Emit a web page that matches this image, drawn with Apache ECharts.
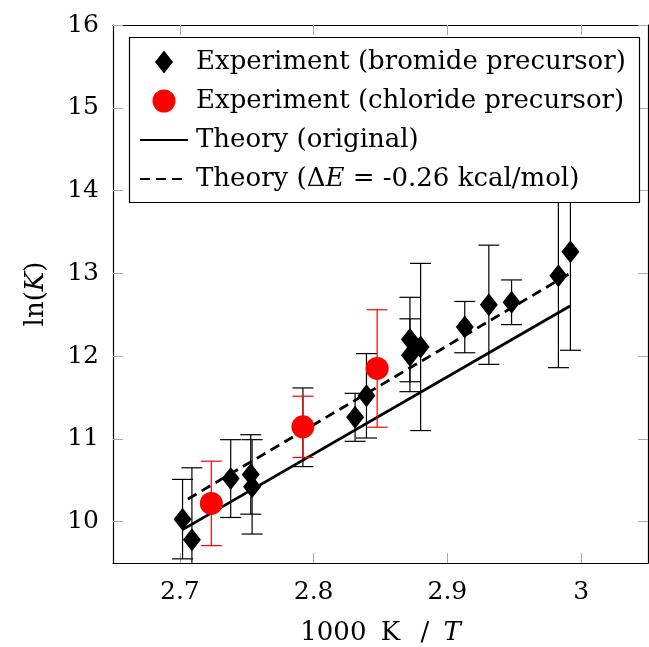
<!DOCTYPE html>
<html>
<head>
<meta charset="utf-8">
<script src="https://cdn.jsdelivr.net/npm/echarts@6/dist/echarts.min.js"></script>
<style>
  html, body { margin: 0; padding: 0; background: #fff; }
  #main { width: 649px; height: 647px; }
</style>
</head>
<body>
<div id="main"></div>
<script>
    'use strict';

    // bromide precursor measurements (1000 K / T, ln K, error)
    var bromideX = [2.702, 2.709, 2.738, 2.753, 2.754, 2.792, 2.831, 2.8395, 2.872, 2.872, 2.880, 2.913, 2.931, 2.948, 2.983, 2.992];
    var bromideY = [10.03, 9.78, 10.52, 10.57, 10.42, 11.14, 11.26, 11.52, 12.20, 12.01, 12.11, 12.35, 12.62, 12.65, 12.97, 13.26];
    var bromideErr = [0.48, 0.87, 0.47, 0.48, 0.57, 0.475, 0.29, 0.51, 0.51, 0.44, 1.01, 0.31, 0.72, 0.27, 1.11, 1.19];

    // chloride precursor measurements
    var chlorideX = [2.7235, 2.792, 2.8475];
    var chlorideY = [10.22, 11.145, 11.85];
    var chlorideErr = [0.51, 0.37, 0.71];

    // theory lines
    var theoryOrigX = [2.7017, 2.9917];
    var theoryOrigY = [9.90, 12.605];
    var theoryShiftX = [2.706, 2.9917];
    var theoryShiftY = [10.273, 13.0];

    var xTicks = [2.7, 2.8, 2.9, 3];
    var yTicks = [10, 11, 12, 13, 14, 15, 16];

    var names = ['Experiment (bromide precursor)', 'Experiment (chloride precursor)', 'Theory (original)', 'Theory (\u0394E = -0.26 kcal/mol)'];

    var FONT = 'DejaVu Serif';
    var FS = 25;      // tick labels
    var FS_BIG = 26;  // legend + axis names

    function pairs(xs, ys) {
        return xs.map(function (x, i) { return [x, ys[i]]; });
    }

    function errorBars(xs, ys, errs, color, z) {
        return {
            type: 'custom',
            silent: true,
            clip: true,
            z: z,
            encode: { x: 0, y: [1, 2] },
            data: xs.map(function (x, i) { return [x, ys[i] - errs[i], ys[i] + errs[i]]; }),
            renderItem: function (params, api) {
                var lo = api.coord([api.value(0), api.value(1)]);
                var hi = api.coord([api.value(0), api.value(2)]);
                var w = 10.5;
                var st = { stroke: color, lineWidth: 1.2 };
                return {
                    type: 'group',
                    children: [
                        { type: 'line', shape: { x1: lo[0], y1: lo[1], x2: hi[0], y2: hi[1] }, style: st },
                        { type: 'line', shape: { x1: lo[0] - w, y1: lo[1], x2: lo[0] + w, y2: lo[1] }, style: st },
                        { type: 'line', shape: { x1: hi[0] - w, y1: hi[1], x2: hi[0] + w, y2: hi[1] }, style: st }
                    ]
                };
            }
        };
    }

    var axisCommon = {
        type: 'value',
        axisLine: { show: true, onZero: false, lineStyle: { color: '#000', width: 1.2 } },
        splitLine: { show: false }
    };

    function mkX(pos, labels) {
        return Object.assign({}, axisCommon, {
            position: pos, min: 2.65, max: 3.05,
            axisTick: { show: true, inside: true, length: 10, customValues: xTicks, lineStyle: { color: '#aaa' } },
            axisLabel: { show: labels, customValues: xTicks, color: '#000', fontFamily: FONT, fontSize: FS, margin: 17,
                formatter: function (v) { return String(v); } }
        });
    }
    function mkY(pos, labels) {
        return Object.assign({}, axisCommon, {
            position: pos, min: 9.5, max: 16,
            axisTick: { show: true, inside: true, length: 10, customValues: yTicks, lineStyle: { color: '#aaa' } },
            axisLabel: { show: labels, customValues: yTicks, color: '#000', fontFamily: FONT, fontSize: FS, margin: 14 }
        });
    }

    var nameRich = {
        r: { fontFamily: FONT, fontSize: FS_BIG, color: '#000' },
        s: { fontFamily: FONT, fontSize: FS_BIG, color: '#000', padding: [0, 6, 0, 6] },
        i: { fontFamily: FONT, fontSize: FS_BIG, fontStyle: 'italic', color: '#000' }
    };

    var xBottom = mkX('bottom', true);
    xBottom.name = '{r|1000}{s| K }{s|/}{i| T}';
    xBottom.nameLocation = 'middle';
    xBottom.nameGap = 57;
    xBottom.nameTextStyle = { color: '#000', rich: nameRich };

    var yLeft = mkY('left', true);
    yLeft.name = '{r|ln(}{i|K}{r|)}';
    yLeft.nameLocation = 'middle';
    yLeft.nameGap = 64;
    yLeft.nameTextStyle = { color: '#000', rich: nameRich };

    var chart = echarts.init(document.getElementById('main'), null, { renderer: 'canvas' });

    var option = {
        animation: false,
        backgroundColor: '#fff',
        grid: { left: 113, right: 1, top: 25, bottom: 84, outerBoundsMode: 'none', containLabel: false },
        xAxis: [xBottom, mkX('top', false)],
        yAxis: [yLeft, mkY('right', false)],
        graphic: [{
            type: 'rect', z: 90,
            shape: { x: 129.5, y: 37.5, width: 510, height: 165 },
            style: { fill: '#fff', stroke: '#000', lineWidth: 1.2 }
        }],
        legend: {
            z: 95,
            orient: 'vertical',
            left: 139, top: 49,
            padding: 0,
            itemWidth: 48, itemHeight: 23, itemGap: 13,
            data: [
                { name: names[0], icon: 'path://M0,0L9,11.5L0,23L-9,11.5Z' },
                { name: names[1], icon: 'circle' },
                { name: names[2], itemStyle: { opacity: 0 } },
                { name: names[3], itemStyle: { opacity: 0 } }
            ],
            formatter: function (n) {
                if (n === names[3]) return '{r|Theory (\u0394}{i|E}{r| = -0.26 kcal/mol)}';
                return '{r|' + n + '}';
            },
            textStyle: {
                padding: [0, 0, 0, 3],
                rich: {
                    r: { fontFamily: FONT, fontSize: FS_BIG, color: '#000' },
                    i: { fontFamily: FONT, fontSize: FS_BIG, fontStyle: 'italic', color: '#000' }
                }
            }
        },
        series: [
            {
                name: names[2], type: 'line', z: 2, symbol: 'none', silent: true,
                lineStyle: { color: '#000', width: 2.8 },
                itemStyle: { color: '#000', opacity: 0 },
                data: pairs(theoryOrigX, theoryOrigY)
            },
            {
                name: names[3], type: 'line', z: 2, symbol: 'none', silent: true,
                lineStyle: { color: '#000', width: 2.8, type: [10, 6] },
                itemStyle: { color: '#000', opacity: 0 },
                data: pairs(theoryShiftX, theoryShiftY)
            },
            errorBars(bromideX, bromideY, bromideErr, '#000', 3),
            {
                name: names[0], type: 'scatter', z: 4, silent: true,
                symbol: 'diamond', symbolSize: [18, 23],
                itemStyle: { color: '#000', opacity: 1 },
                data: pairs(bromideX, bromideY)
            },
            errorBars(chlorideX, chlorideY, chlorideErr, '#f00', 5),
            {
                name: names[1], type: 'scatter', z: 6, silent: true,
                symbol: 'circle', symbolSize: 23,
                itemStyle: { color: '#f00', opacity: 1 },
                data: pairs(chlorideX, chlorideY)
            }
        ]
    };

    chart.setOption(option);
</script>
</body>
</html>
